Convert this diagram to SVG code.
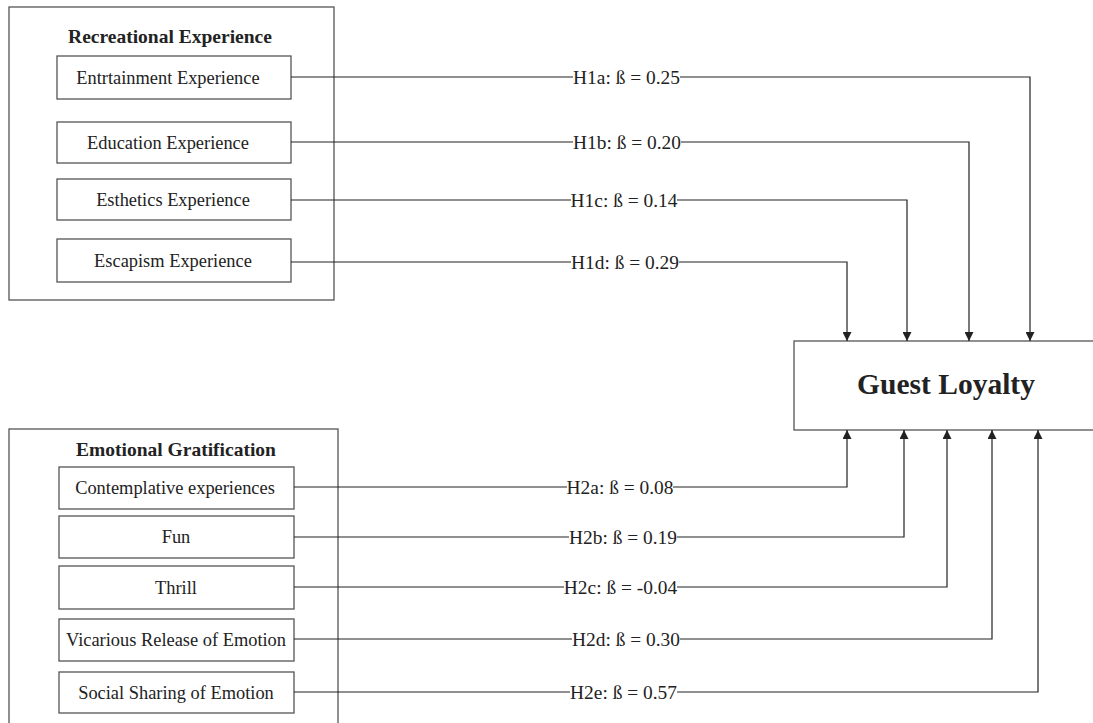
<svg xmlns="http://www.w3.org/2000/svg" width="1093" height="723" viewBox="0 0 1093 723">
<style>
.box{fill:#fff;stroke:#555;stroke-width:1.3}
.t{font-family:"Liberation Serif","Times New Roman",serif;font-size:18.4px;fill:#222;text-anchor:middle}
.title{font-family:"Liberation Serif","Times New Roman",serif;font-size:19.5px;font-weight:bold;fill:#222;text-anchor:middle}
.lbl{font-family:"Liberation Serif","Times New Roman",serif;font-size:19.4px;fill:#222;text-anchor:middle}
.c{fill:none;stroke:#222;stroke-width:1.2}
</style>
<defs>
<marker id="ah" viewBox="0 0 10 10" refX="10" refY="5" markerWidth="9" markerHeight="9" markerUnits="userSpaceOnUse" orient="auto">
<path d="M0,0 L10,5 L0,10 z" fill="#222"/>
</marker>
</defs>
<rect width="1093" height="723" fill="#fff"/>
<g id="recreational-experience">
<rect class="box" x="9" y="7" width="325" height="293"/>
<text class="title" x="170" y="43">Recreational Experience</text>
</g>
<g id="entertainment"><rect class="box" x="57" y="56" width="234" height="43"/><text class="t" x="168" y="83.5">Entrtainment Experience</text></g>
<g id="education"><rect class="box" x="57" y="122" width="234" height="41"/><text class="t" x="168" y="148.5">Education Experience</text></g>
<g id="esthetics"><rect class="box" x="57" y="179" width="234" height="41"/><text class="t" x="173" y="206">Esthetics Experience</text></g>
<g id="escapism"><rect class="box" x="57" y="239" width="234" height="43"/><text class="t" x="173" y="267">Escapism Experience</text></g>
<g id="emotional-gratification">
<rect class="box" x="9" y="429" width="329" height="310"/>
<text class="title" x="176" y="456">Emotional Gratification</text>
</g>
<g id="contemplative"><rect class="box" x="59" y="467" width="235" height="42"/><text class="t" x="175" y="494">Contemplative experiences</text></g>
<g id="fun"><rect class="box" x="59" y="516" width="235" height="42"/><text class="t" x="176" y="543">Fun</text></g>
<g id="thrill"><rect class="box" x="59" y="566" width="235" height="43"/><text class="t" x="176" y="593.5">Thrill</text></g>
<g id="vicarious"><rect class="box" x="59" y="619" width="235" height="42"/><text class="t" x="176" y="646">Vicarious Release of Emotion</text></g>
<g id="social"><rect class="box" x="59" y="672" width="235" height="41"/><text class="t" x="176" y="698.5">Social Sharing of Emotion</text></g>
<g id="guest-loyalty">
<rect class="box" x="794" y="341" width="310" height="89"/>
<text class="title" x="946" y="394" style="font-size:29.5px">Guest Loyalty</text>
</g>
<g id="connectors">
<path class="c" d="M291,77 H573"/><path class="c" d="M680,77 H1030 V341" marker-end="url(#ah)"/>
<text class="lbl" x="626.5" y="84">H1a: ß = 0.25</text>
<path class="c" d="M291,142 H573"/><path class="c" d="M681,142 H969 V341" marker-end="url(#ah)"/>
<text class="lbl" x="627" y="149">H1b: ß = 0.20</text>
<path class="c" d="M291,200 H571"/><path class="c" d="M677,200 H907 V341" marker-end="url(#ah)"/>
<text class="lbl" x="624" y="207">H1c: ß = 0.14</text>
<path class="c" d="M291,262 H571"/><path class="c" d="M679,262 H847 V341" marker-end="url(#ah)"/>
<text class="lbl" x="625" y="269">H1d: ß = 0.29</text>
<path class="c" d="M294,487 H567"/><path class="c" d="M673,487 H847 V430" marker-end="url(#ah)"/>
<text class="lbl" x="620" y="494">H2a: ß = 0.08</text>
<path class="c" d="M294,537 H569"/><path class="c" d="M677,537 H904 V430" marker-end="url(#ah)"/>
<text class="lbl" x="623" y="544">H2b: ß = 0.19</text>
<path class="c" d="M294,587 H564"/><path class="c" d="M677,587 H947 V430" marker-end="url(#ah)"/>
<text class="lbl" x="620.5" y="594">H2c: ß = -0.04</text>
<path class="c" d="M294,639 H572"/><path class="c" d="M680,639 H992 V430" marker-end="url(#ah)"/>
<text class="lbl" x="626" y="646">H2d: ß = 0.30</text>
<path class="c" d="M294,692 H570"/><path class="c" d="M677,692 H1038 V430" marker-end="url(#ah)"/>
<text class="lbl" x="623.5" y="699">H2e: ß = 0.57</text>
</g>
</svg>
